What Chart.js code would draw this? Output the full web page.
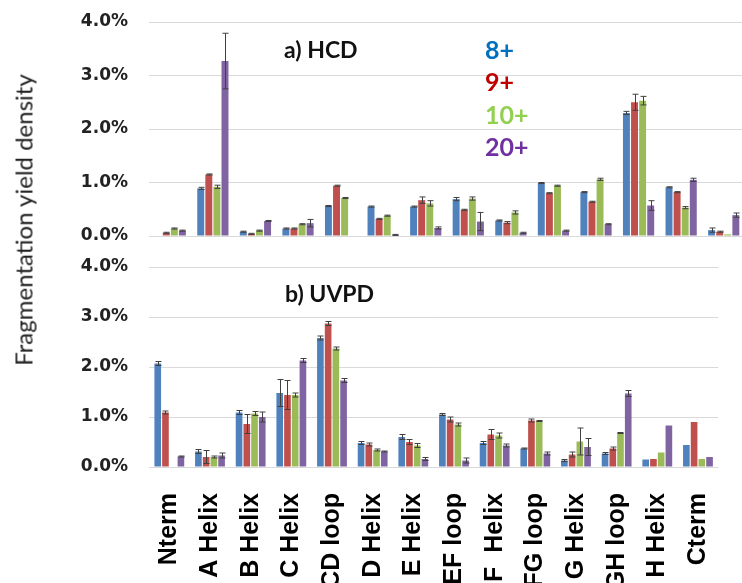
<!DOCTYPE html>
<html>
<head>
<meta charset="utf-8">
<script src="https://cdn.jsdelivr.net/npm/chart.js@4"></script>
<style>
  body { margin: 0; background: #fff; overflow: hidden; width: 742px; height: 583px; position: relative; }
  #canvasTop { position: absolute; left: 0; top: 0; }
  #canvasBot { position: absolute; left: 0; top: 250px; }
  #yTitle {
    position: absolute; left: 23px; top: 220px;
    transform: translate(-50%, -50%) rotate(-90deg);
    font-family: Lato, sans-serif; font-size: 24px; color: #222; white-space: nowrap;
  }
</style>
</head>
<body>
<canvas id="canvasTop" width="746" height="250"></canvas>
<canvas id="canvasBot" width="746" height="333"></canvas>
<div id="yTitle">Fragmentation yield density</div>
<script>
// protein regions
let regions = ["Nterm", "A Helix", "B Helix", "C Helix", "CD loop", "D Helix", "E Helix",
               "EF loop", "F  Helix", "FG loop", "G Helix", "GH loop", "H Helix", "Cterm"];
let charges = ["8+", "9+", "10+", "20+"];
let yTicks = [0, 1, 2, 3, 4];

// a) HCD, values in %
let hcd8  = [0.00, 0.89, 0.08, 0.14, 0.56, 0.55, 0.55, 0.69, 0.29, 0.99, 0.82, 2.30, 0.91, 0.11];
let hcd9  = [0.06, 1.15, 0.04, 0.14, 0.94, 0.32, 0.67, 0.49, 0.25, 0.80, 0.64, 2.50, 0.82, 0.08];
let hcd10 = [0.14, 0.92, 0.10, 0.22, 0.71, 0.38, 0.61, 0.70, 0.44, 0.94, 1.06, 2.53, 0.53, 0.03];
let hcd20 = [0.10, 3.27, 0.28, 0.24, 0.00, 0.02, 0.15, 0.27, 0.06, 0.10, 0.22, 0.57, 1.05, 0.39];
let hcdErr8  = [0, 0.02, 0.01, 0.01, 0.01, 0.01, 0.01, 0.03, 0.01, 0.01, 0.01, 0.03, 0.01, 0.04];
let hcdErr9  = [0.01, 0.01, 0.01, 0.01, 0.01, 0.01, 0.06, 0.01, 0.02, 0.01, 0.01, 0.15, 0.01, 0.01];
let hcdErr10 = [0.01, 0.03, 0.01, 0.01, 0.01, 0.01, 0.05, 0.03, 0.03, 0.01, 0.02, 0.08, 0.02, 0];
let hcdErr20 = [0.01, 0.52, 0.01, 0.07, 0, 0.01, 0.02, 0.17, 0.01, 0.01, 0.01, 0.09, 0.03, 0.04];

// b) UVPD, values in %
let uvpd8  = [2.07, 0.31, 1.09, 1.48, 2.58, 0.48, 0.60, 1.05, 0.48, 0.37, 0.13, 0.27, 0.15, 0.44];
let uvpd9  = [1.09, 0.20, 0.86, 1.44, 2.87, 0.45, 0.50, 0.95, 0.65, 0.93, 0.25, 0.37, 0.16, 0.90];
let uvpd10 = [0.00, 0.20, 1.07, 1.44, 2.37, 0.34, 0.43, 0.85, 0.63, 0.92, 0.51, 0.68, 0.29, 0.16];
let uvpd20 = [0.21, 0.23, 1.00, 2.13, 1.73, 0.31, 0.16, 0.13, 0.43, 0.27, 0.40, 1.47, 0.83, 0.20];
let uvpdErr8  = [0.04, 0.04, 0.04, 0.27, 0.04, 0.03, 0.05, 0.02, 0.03, 0.01, 0.02, 0.02, 0, 0];
let uvpdErr9  = [0.03, 0.13, 0.19, 0.29, 0.04, 0.03, 0.05, 0.05, 0.10, 0.03, 0.05, 0.03, 0, 0];
let uvpdErr10 = [0, 0.02, 0.04, 0.04, 0.03, 0.02, 0.04, 0.03, 0.05, 0.01, 0.27, 0.01, 0, 0];
let uvpdErr20 = [0.01, 0.05, 0.10, 0.04, 0.04, 0.01, 0.03, 0.05, 0.03, 0.03, 0.17, 0.06, 0, 0];

let barColors = ["#4F81BD", "#C0504D", "#9BBB59", "#8064A2"];
let textColors = ["#0070C0", "#C00000", "#92D050", "#7030A0"];

// error bars drawn on top of each bar
const errorBars = {
    id: 'errorBars',
    afterDatasetsDraw(chart) {
        const ctx = chart.ctx;
        const yScale = chart.scales.y;
        ctx.save();
        ctx.strokeStyle = '#404040';
        ctx.lineWidth = 1;
        chart.data.datasets.forEach((ds, di) => {
            const meta = chart.getDatasetMeta(di);
            meta.data.forEach((bar, i) => {
                const e = ds.errors[i];
                const v = ds.data[i];
                if (!e || !v) return;
                const x = Math.round(bar.x) + 0.5;
                const y1 = yScale.getPixelForValue(v + e);
                const y2 = yScale.getPixelForValue(Math.max(0, v - e));
                ctx.beginPath();
                ctx.moveTo(x, y1); ctx.lineTo(x, y2);
                ctx.moveTo(x - 3, y1); ctx.lineTo(x + 3, y1);
                ctx.moveTo(x - 3, y2); ctx.lineTo(x + 3, y2);
                ctx.stroke();
            });
        });
        ctx.restore();
    }
};

// free text inside the plot (panel titles, charge legend)
const panelText = {
    id: 'panelText',
    afterDraw(chart, args, opts) {
        const ctx = chart.ctx;
        ctx.save();
        ctx.textBaseline = 'middle';
        ctx.textAlign = 'left';
        (opts.items || []).forEach(it => {
            ctx.font = it.font;
            ctx.fillStyle = it.color;
            ctx.fillText(it.text, it.x, it.y);
        });
        ctx.restore();
    }
};

function makeDatasets(values, errs) {
    return charges.map((c, k) => ({
        label: c,
        data: values[k],
        errors: errs[k],
        backgroundColor: barColors[k],
        borderWidth: 0,
        categoryPercentage: 0.76,
        barPercentage: 0.86
    }));
}

function yAxis() {
    return {
        min: 0,
        max: 4,
        afterBuildTicks: s => { s.ticks = yTicks.map(v => ({value: v})); },
        afterFit: s => { s.width = 149; },
        border: { display: false },
        // invisible tick marks keep the labels away from the plot
        grid: { color: '#d9d9d9', drawTicks: true, tickLength: 20, tickColor: 'rgba(0,0,0,0)' },
        ticks: {
            padding: 1,
            color: '#222',
            font: { family: 'DejaVu Sans', weight: 'bold', size: 17 },
            callback: v => v.toFixed(1) + '%'
        }
    };
}

let topChart = new Chart(document.getElementById('canvasTop').getContext('2d'), {
    type: 'bar',
    data: {
        labels: regions,
        datasets: makeDatasets([hcd8, hcd9, hcd10, hcd20], [hcdErr8, hcdErr9, hcdErr10, hcdErr20])
    },
    options: {
        responsive: false,
        animation: false,
        layout: { padding: { top: 22, bottom: 14, left: 0, right: 1 } },
        scales: {
            x: { display: false },
            y: yAxis()
        },
        plugins: {
            legend: { display: false },
            tooltip: { enabled: false },
            panelText: {
                items: [
                    { text: 'a) HCD', x: 284, y: 51, color: '#111', font: 'bold 23px Lato' },
                    { text: charges[0], x: 485, y: 51, color: textColors[0], font: 'bold 25px Lato' },
                    { text: charges[1], x: 485, y: 83, color: textColors[1], font: 'bold 25px Lato' },
                    { text: charges[2], x: 485, y: 116, color: textColors[2], font: 'bold 25px Lato' },
                    { text: charges[3], x: 485, y: 148, color: textColors[3], font: 'bold 25px Lato' }
                ]
            }
        }
    },
    plugins: [errorBars, panelText]
});

let botChart = new Chart(document.getElementById('canvasBot').getContext('2d'), {
    type: 'bar',
    data: {
        labels: regions,
        datasets: makeDatasets([uvpd8, uvpd9, uvpd10, uvpd20], [uvpdErr8, uvpdErr9, uvpdErr10, uvpdErr20])
    },
    options: {
        responsive: false,
        animation: false,
        layout: { padding: { top: 17, bottom: 0, left: 0, right: 1 } },
        scales: {
            x: {
                afterFit: s => { s.height = 116; },
                border: { display: false },
                grid: { display: false },
                ticks: {
                    autoSkip: false,
                    minRotation: 90,
                    maxRotation: 90,
                    padding: 18,
                    color: '#000',
                    font: { family: 'Liberation Sans', weight: 'bold', size: 25 }
                }
            },
            y: yAxis()
        },
        plugins: {
            legend: { display: false },
            tooltip: { enabled: false },
            panelText: {
                items: [
                    { text: 'b) UVPD', x: 285, y: 45, color: '#111', font: 'bold 23px Lato' }
                ]
            }
        }
    },
    plugins: [errorBars, panelText]
});
</script>
</body>
</html>
